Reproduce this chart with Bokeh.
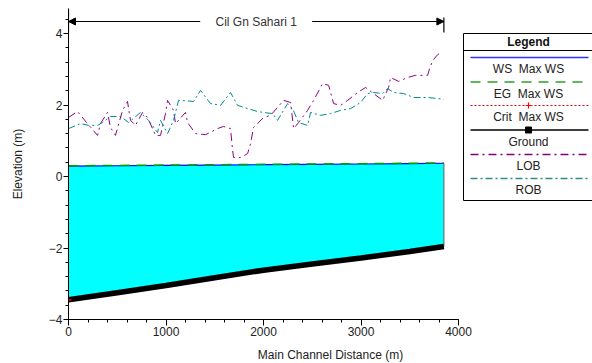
from bokeh.plotting import figure
from bokeh.models import FixedTicker, Arrow, NormalHead, Range1d
from bokeh.core.properties import value
from bokeh.embed import file_html
from bokeh.resources import INLINE

# ---------------- data ----------------
title_text = "Cil Gn Sahari 1"
station = [0, 500, 1000, 1500, 2000, 2500, 3000, 3500, 3850]
ground = [-3.45, -3.25, -3.05, -2.83, -2.62, -2.45, -2.28, -2.10, -1.96]
ws = [0.29, 0.30, 0.31, 0.32, 0.33, 0.34, 0.35, 0.36, 0.37]
eg = [0.30, 0.31, 0.32, 0.33, 0.34, 0.35, 0.36, 0.37, 0.38]
crit_station = [0]
crit = [-3.45]
lob_station = [0, 92, 185, 298, 328, 400, 431, 482, 554, 605, 636, 687, 759, 811, 893, 944,
               995, 1016, 1077, 1098, 1200, 1221, 1303, 1406, 1529, 1590, 1662, 1683, 1693,
               1765, 1837, 1867, 1898, 2001, 2073, 2206, 2278, 2309, 2360, 2452, 2514, 2606,
               2668, 2719, 2791, 2863, 2965, 3047, 3129, 3222, 3283, 3304, 3386, 3478, 3560,
               3683, 3704, 3735, 3786, 3827]
lob = [1.65, 1.82, 1.51, 1.15, 1.48, 1.79, 1.37, 1.15, 1.85, 2.10, 1.57, 1.43, 1.79, 1.65, 1.15,
       1.15, 1.76, 2.13, 1.85, 1.48, 1.79, 1.51, 1.20, 1.17, 1.34, 1.40, 1.34, 0.73, 0.53, 0.53,
       0.64, 0.92, 1.37, 1.65, 1.71, 2.13, 2.07, 1.34, 1.51, 1.85, 2.13, 2.60, 2.55, 2.04, 1.99,
       2.13, 2.35, 2.49, 2.32, 2.13, 2.49, 2.77, 2.66, 2.77, 2.83, 2.83, 3.02, 3.24, 3.41, 3.47]
rob_station = [0, 123, 205, 298, 349, 431, 534, 616, 739, 821, 913, 944, 1016, 1077, 1129, 1283,
               1354, 1457, 1560, 1662, 1734, 1837, 1939, 2001, 2093, 2144, 2247, 2298, 2360,
               2452, 2483, 2586, 2688, 2791, 2894, 2996, 3068, 3129, 3222, 3273, 3335, 3437,
               3540, 3683, 3786, 3850]
rob = [1.34, 1.48, 1.43, 1.43, 1.51, 1.68, 1.68, 1.51, 1.79, 1.57, 1.23, 1.57, 1.20, 1.57, 2.13,
       2.10, 2.41, 2.04, 1.99, 2.35, 1.99, 1.90, 1.82, 1.79, 1.76, 1.57, 2.04, 1.90, 1.51, 1.43,
       1.79, 1.71, 1.76, 1.85, 1.90, 2.07, 2.32, 2.35, 2.32, 2.46, 2.35, 2.32, 2.21, 2.21, 2.18,
       2.16]
x_ticks = [0, 1000, 2000, 3000, 4000]
y_ticks = [-4, -2, 0, 2, 4]
legend_title = "Legend"
legend_labels = ["WS\u00a0 Max WS", "EG\u00a0 Max WS", "Crit\u00a0 Max WS", "Ground", "LOB", "ROB"]

# ---------------- layout helpers ----------------
FONT = "Liberation Sans"
FRAME_LEFT_PX, FRAME_TOP_PX = 68, 8       # page pixels
PX_PER_X = 390 / 4000.0
PX_PER_Y = 35.75
FRAME_W, FRAME_H = 524, 311
Y_BOTTOM = -4.0
X_END = FRAME_W / PX_PER_X
Y_TOP = Y_BOTTOM + FRAME_H / PX_PER_Y


def px2x(px):
    return (px - FRAME_LEFT_PX) / PX_PER_X


def py2y(py):
    return Y_BOTTOM + (FRAME_TOP_PX + FRAME_H - py) / PX_PER_Y


p = figure(frame_width=FRAME_W, frame_height=FRAME_H,
           min_border_left=FRAME_LEFT_PX, min_border_right=0,
           min_border_top=FRAME_TOP_PX, min_border_bottom=44,
           x_range=Range1d(0, X_END), y_range=Range1d(Y_BOTTOM, Y_TOP),
           output_backend="svg", toolbar_location=None)
p.outline_line_color = None
p.xgrid.visible = False
p.ygrid.visible = False
p.background_fill_color = "white"
p.border_fill_color = "white"

# axes
p.xaxis.ticker = FixedTicker(ticks=x_ticks, minor_ticks=list(range(0, 4001, 200)))
p.xaxis.bounds = (x_ticks[0], x_ticks[-1])
p.yaxis.ticker = FixedTicker(ticks=y_ticks, minor_ticks=[round(-4 + 0.4 * i, 1) for i in range(22)])
p.yaxis.bounds = (Y_BOTTOM, Y_TOP)
for ax in (p.xaxis, p.yaxis):
    ax.axis_line_color = "black"
    ax.major_tick_line_color = "black"
    ax.minor_tick_line_color = "black"
    ax.major_tick_in = 0
    ax.minor_tick_in = 0
    ax.minor_tick_out = 3
    ax.major_label_text_font = FONT
    ax.major_label_text_font_size = "12px"
    ax.major_label_text_color = "#222222"
    ax.axis_label_text_font = FONT
    ax.axis_label_text_font_size = "12px"
    ax.axis_label_text_font_style = "normal"
    ax.axis_label_text_color = "#222222"
    ax.major_label_standoff = 1
p.xaxis.major_tick_out = 6
p.yaxis.major_tick_out = 5
p.xaxis.axis_label = "Main Channel Distance (m)"
p.yaxis.axis_label = "Elevation (m)"
p.xaxis.axis_label_standoff = 9
p.yaxis.axis_label_standoff = 21

# water and profiles
p.varea(x=station, y1=ground, y2=ws, fill_color="#00FFFF")
p.segment(x0=[station[-1]], y0=[ground[-1]], x1=[station[-1]], y1=[ws[-1]],
          line_color="#707070", line_width=1.2)
p.line(station, ws, line_color="#0000FF", line_width=1.2)
p.line(station, eg, line_color="#00A000", line_width=1.5, line_dash="10 7")
p.line(station, ground, line_color="black", line_width=5.5)
p.scatter(crit_station, crit, marker="cross", size=6, line_color="red", line_width=1.5)
p.line(lob_station, lob, line_color="#8B008B", line_width=1, line_dash="8 4 2 4")
p.line(rob_station, rob, line_color="#008B8B", line_width=1, line_dash="7 3 2 3")

# reach title with arrows
ty = py2y(21)
mid = (station[0] + station[-1]) / 2.0
gap = 56 / PX_PER_X
p.add_layout(Arrow(end=NormalHead(size=7, fill_color="black", line_color="black"),
                   x_start=mid - gap, y_start=ty, x_end=station[0], y_end=ty,
                   line_color="black", line_width=1))
p.add_layout(Arrow(end=NormalHead(size=7, fill_color="black", line_color="black"),
                   x_start=mid + gap, y_start=ty, x_end=station[-1], y_end=ty,
                   line_color="black", line_width=1))
p.segment(x0=[station[0], station[-1]], y0=[py2y(8), py2y(17)],
          x1=[station[0], station[-1]], y1=[py2y(33), py2y(32)],
          line_color="black", line_width=1.2)
p.text(x=[mid], y=[ty], text=[title_text], text_align="center", text_baseline="middle",
       text_font=value(FONT), text_font_size="12px", text_color="#333333")

# legend box
LX0, LX1 = 463, 600
p.quad(left=[px2x(LX0)], right=[px2x(LX1)], top=[py2y(33)], bottom=[py2y(200)],
       fill_color="white", line_color="black", line_width=1)
p.segment(x0=[px2x(LX0)], y0=[py2y(50)], x1=[px2x(LX1)], y1=[py2y(50)],
          line_color="black", line_width=1)
p.text(x=[px2x(528)], y=[py2y(41.5)], text=[legend_title], text_align="center",
       text_baseline="middle", text_font=value(FONT), text_font_size="12px",
       text_font_style="bold", text_color="#111111")
line_py = [57, 81.5, 105, 129.5, 154, 178]
text_py = [68.5, 93, 116, 141.5, 165, 189.5]
sx0, sx1, scx = px2x(470), px2x(588), px2x(528)
styles = [
    dict(line_color="#3333FF", line_width=1.5),
    dict(line_color="#2E9E2E", line_width=1.5, line_dash="10 7"),
    dict(line_color="red", line_width=1, line_dash="2 2"),
    dict(line_color="black", line_width=1.5),
    dict(line_color="#800080", line_width=1.5, line_dash="8 4 2 4"),
    dict(line_color="#2E8B8B", line_width=1.5, line_dash="7 3 2 3"),
]
for lp, st in zip(line_py, styles):
    p.line([sx0, sx1], [py2y(lp), py2y(lp)], **st)
p.scatter([scx], [py2y(line_py[2])], marker="cross", size=6, line_color="red", line_width=1.2)
p.scatter([scx], [py2y(line_py[3])], marker="square", size=6, fill_color="black", line_color="black")
p.text(x=[scx] * len(legend_labels), y=[py2y(t) for t in text_py], text=legend_labels,
       text_align="center", text_baseline="middle", text_font=value(FONT),
       text_font_size="12px", text_color="#222222")

open("out.html", "w").write(file_html(p, INLINE))
